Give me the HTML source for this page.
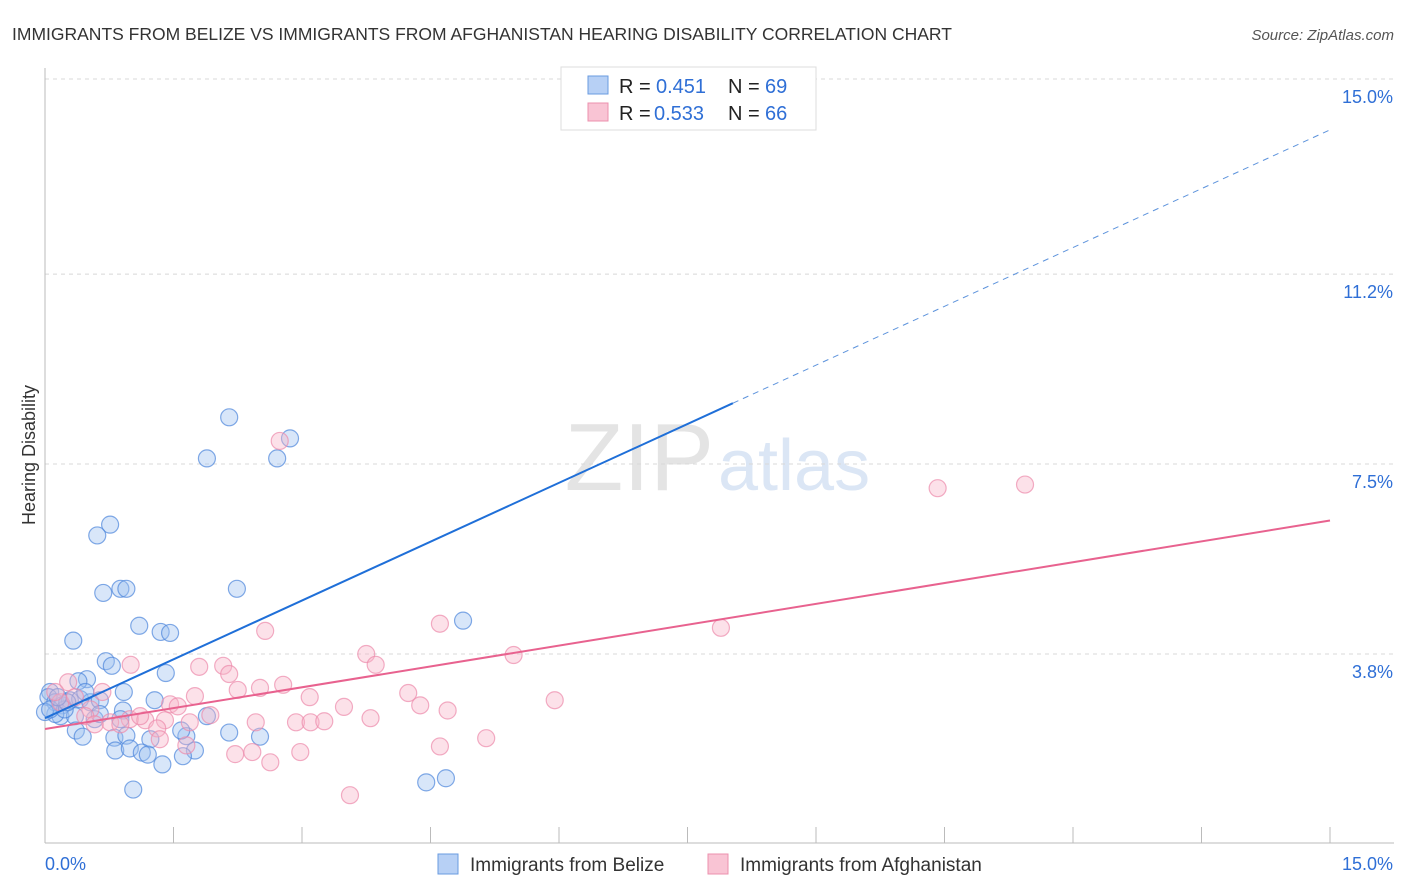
<!DOCTYPE html>
<html><head><meta charset="utf-8"><style>
body{margin:0;background:#fff;font-family:"Liberation Sans",sans-serif;}
#wrap{position:relative;width:1406px;height:892px;overflow:hidden;}
svg text{font-family:"Liberation Sans",sans-serif;}
</style></head><body>
<div id="wrap">
<svg id="chart" width="1406" height="892">
<text x="12" y="40" font-size="17.5" fill="#333">IMMIGRANTS FROM BELIZE VS IMMIGRANTS FROM AFGHANISTAN HEARING DISABILITY CORRELATION CHART</text>
<text x="1394" y="40" font-size="15" fill="#555" font-style="italic" text-anchor="end">Source: ZipAtlas.com</text>
<text x="35" y="455" font-size="18" fill="#333" text-anchor="middle" transform="rotate(-90 35 455)">Hearing Disability</text>
<text x="714" y="490" font-size="96" fill="#e4e4e4" text-anchor="end" font-family="Liberation Serif">ZIP</text>
<text x="718" y="490" font-size="72" fill="#dbe6f5">atlas</text>
<g id="grid"></g><g id="marks"></g>
<g>
<rect x="561" y="67" width="255" height="63" fill="#fff" stroke="#ddd"/>
<rect x="588" y="76" width="20" height="18" fill="#b7d0f5" stroke="#6a9be0"/>
<rect x="588" y="103" width="20" height="18" fill="#f9c4d4" stroke="#ec90ae"/>
<text x="619" y="93" font-size="20" fill="#222">R = </text><text x="656" y="93" font-size="20" fill="#2f6fd6">0.451</text>
<text x="728" y="93" font-size="20" fill="#222">N = </text><text x="765" y="93" font-size="20" fill="#2f6fd6">69</text>
<text x="619" y="120" font-size="20" fill="#222">R = </text><text x="654" y="120" font-size="20" fill="#2f6fd6">0.533</text>
<text x="728" y="120" font-size="20" fill="#222">N = </text><text x="765" y="120" font-size="20" fill="#2f6fd6">66</text>
</g>
<g>
<rect x="438" y="854" width="20" height="20" fill="#b7d0f5" stroke="#6a9be0"/>
<text x="470" y="871" font-size="19" fill="#333">Immigrants from Belize</text>
<rect x="708" y="854" width="20" height="20" fill="#f9c4d4" stroke="#ec90ae"/>
<text x="740" y="871" font-size="19" fill="#333">Immigrants from Afghanistan</text>
</g>
</svg></div>
<script>
const yTicks=[15.0,11.2,7.5,3.8];
const yTickLabels=["15.0%","11.2%","7.5%","3.8%"];
const xTickCount=10;
const xLabels=["0.0%","15.0%"];
const belizeX=[2.15,2.86,1.89,2.71,0.76,0.61,0.68,0.88,0.95,2.24,4.88,1.10,1.35,1.46,0.33,0.71,0.78,1.41,0.49,0.39,0.92,1.28,0.06,0.04,0.12,0.20,0.29,0.41,0.53,0.64,0.18,0.35,0.58,0.91,1.89,0.36,0.44,0.81,0.95,1.23,1.65,1.59,2.15,2.51,0.82,0.99,1.13,1.20,1.75,1.61,1.37,1.03,4.45,4.68,0.12,0.23,0.47,0.64,0.88,0.00,0.06,0.26,0.15];
const belizeY=[8.41,8.00,7.61,7.61,6.32,6.11,4.99,5.07,5.07,5.07,4.45,4.35,4.23,4.21,4.06,3.66,3.57,3.43,3.31,3.27,3.06,2.90,3.06,2.96,2.86,2.80,2.90,2.92,2.86,2.90,2.59,2.59,2.53,2.70,2.59,2.31,2.19,2.17,2.21,2.14,2.20,2.31,2.27,2.19,1.92,1.96,1.88,1.84,1.92,1.81,1.65,1.16,1.30,1.38,2.63,2.72,3.06,2.63,2.53,2.67,2.72,2.86,2.96];
const afghanX=[2.74,10.42,11.44,2.57,4.61,7.89,3.75,3.86,5.47,1.00,1.80,2.08,2.15,2.25,2.51,2.78,1.75,3.09,4.24,5.95,0.27,0.67,1.46,1.55,3.49,4.38,4.70,0.99,1.17,1.40,1.69,2.46,2.93,3.10,3.26,3.80,1.93,0.76,0.88,1.31,1.65,1.34,2.22,2.42,2.98,2.63,4.61,5.15,3.56,0.18,0.35,0.53,0.12,0.47,0.58,1.11];
const afghanY=[7.95,7.03,7.10,4.25,4.39,4.31,3.80,3.59,3.78,3.59,3.55,3.57,3.41,3.10,3.14,3.20,2.98,2.96,3.04,2.90,3.25,3.06,2.82,2.78,2.77,2.80,2.70,2.53,2.51,2.51,2.47,2.47,2.47,2.47,2.49,2.55,2.61,2.47,2.43,2.35,2.02,2.14,1.85,1.89,1.89,1.69,2.00,2.16,1.05,2.86,2.96,2.72,3.06,2.59,2.43,2.59];
const belizeTrend=[2.55,14.01];
const afghanTrend=[2.34,6.40];
const belizeSolidEnd=8.03;

const NS="http://www.w3.org/2000/svg";
const X0=45,X1=1330,YTOP=79,YPX=51.34;
function sx(v){return X0+(X1-X0)*v/15;}
function sy(v){return YTOP+(15-v)*YPX;}
function mk(tag,attrs,parent){const e=document.createElementNS(NS,tag);for(const k in attrs)e.setAttribute(k,attrs[k]);parent.appendChild(e);return e;}
const grid=document.getElementById('grid'),marks=document.getElementById('marks');
yTicks.forEach((t,i)=>{
  const l=mk('line',{x1:X0,x2:1394,y1:sy(t),y2:sy(t),stroke:'#d8d8d8','stroke-dasharray':'4,4'},grid);
  
  
  const tx=mk('text',{x:1393,y:sy(t)+24,'font-size':18,fill:'#2f6fd6','text-anchor':'end'},grid);
  tx.textContent=yTickLabels[i];
  
  
});
const ax=mk('line',{x1:X0,x2:1394,y1:843,y2:843,stroke:'#bbb'},grid);


const ay=mk('line',{x1:X0,x2:X0,y1:68,y2:843,stroke:'#bbb'},grid);


for(let i=0;i<=xTickCount;i++){
  const t=mk('line',{x1:sx(i*15/xTickCount),x2:sx(i*15/xTickCount),y1:827,y2:843,stroke:'#bbb'},grid);
  
  
}
const xl0=mk('text',{x:45,y:870,'font-size':18,fill:'#2f6fd6'},grid);xl0.textContent=xLabels[0];


const xl1=mk('text',{x:1393,y:870,'font-size':18,fill:'#2f6fd6','text-anchor':'end'},grid);xl1.textContent=xLabels[1];


function pts(xs,ys,fill,stroke,name){
  xs.forEach((x,i)=>{
    const c=mk('circle',{cx:sx(x),cy:sy(ys[i]),r:8.5,fill:fill,'fill-opacity':0.4,stroke:stroke,'stroke-opacity':0.7,'stroke-width':1.2},marks);
    
    
  });
}
pts(belizeX,belizeY,'#9dc0f0','#4d86dc','belize-point');
pts(afghanX,afghanY,'#f7b3c8','#ec8aab','afghanistan-point');
function yAt(tr,x){return tr[0]+(tr[1]-tr[0])*x/15;}
const bl=mk('line',{x1:sx(0),y1:sy(belizeTrend[0]),x2:sx(belizeSolidEnd),y2:sy(yAt(belizeTrend,belizeSolidEnd)),stroke:'#1f6fd8','stroke-width':2},marks);


const bd=mk('line',{x1:sx(belizeSolidEnd),y1:sy(yAt(belizeTrend,belizeSolidEnd)),x2:sx(15),y2:sy(belizeTrend[1]),stroke:'#5d93dc','stroke-width':1,'stroke-dasharray':'6,5'},marks);


const al=mk('line',{x1:sx(0),y1:sy(afghanTrend[0]),x2:sx(15),y2:sy(afghanTrend[1]),stroke:'#e8628f','stroke-width':2},marks);


</script>
</body></html>
